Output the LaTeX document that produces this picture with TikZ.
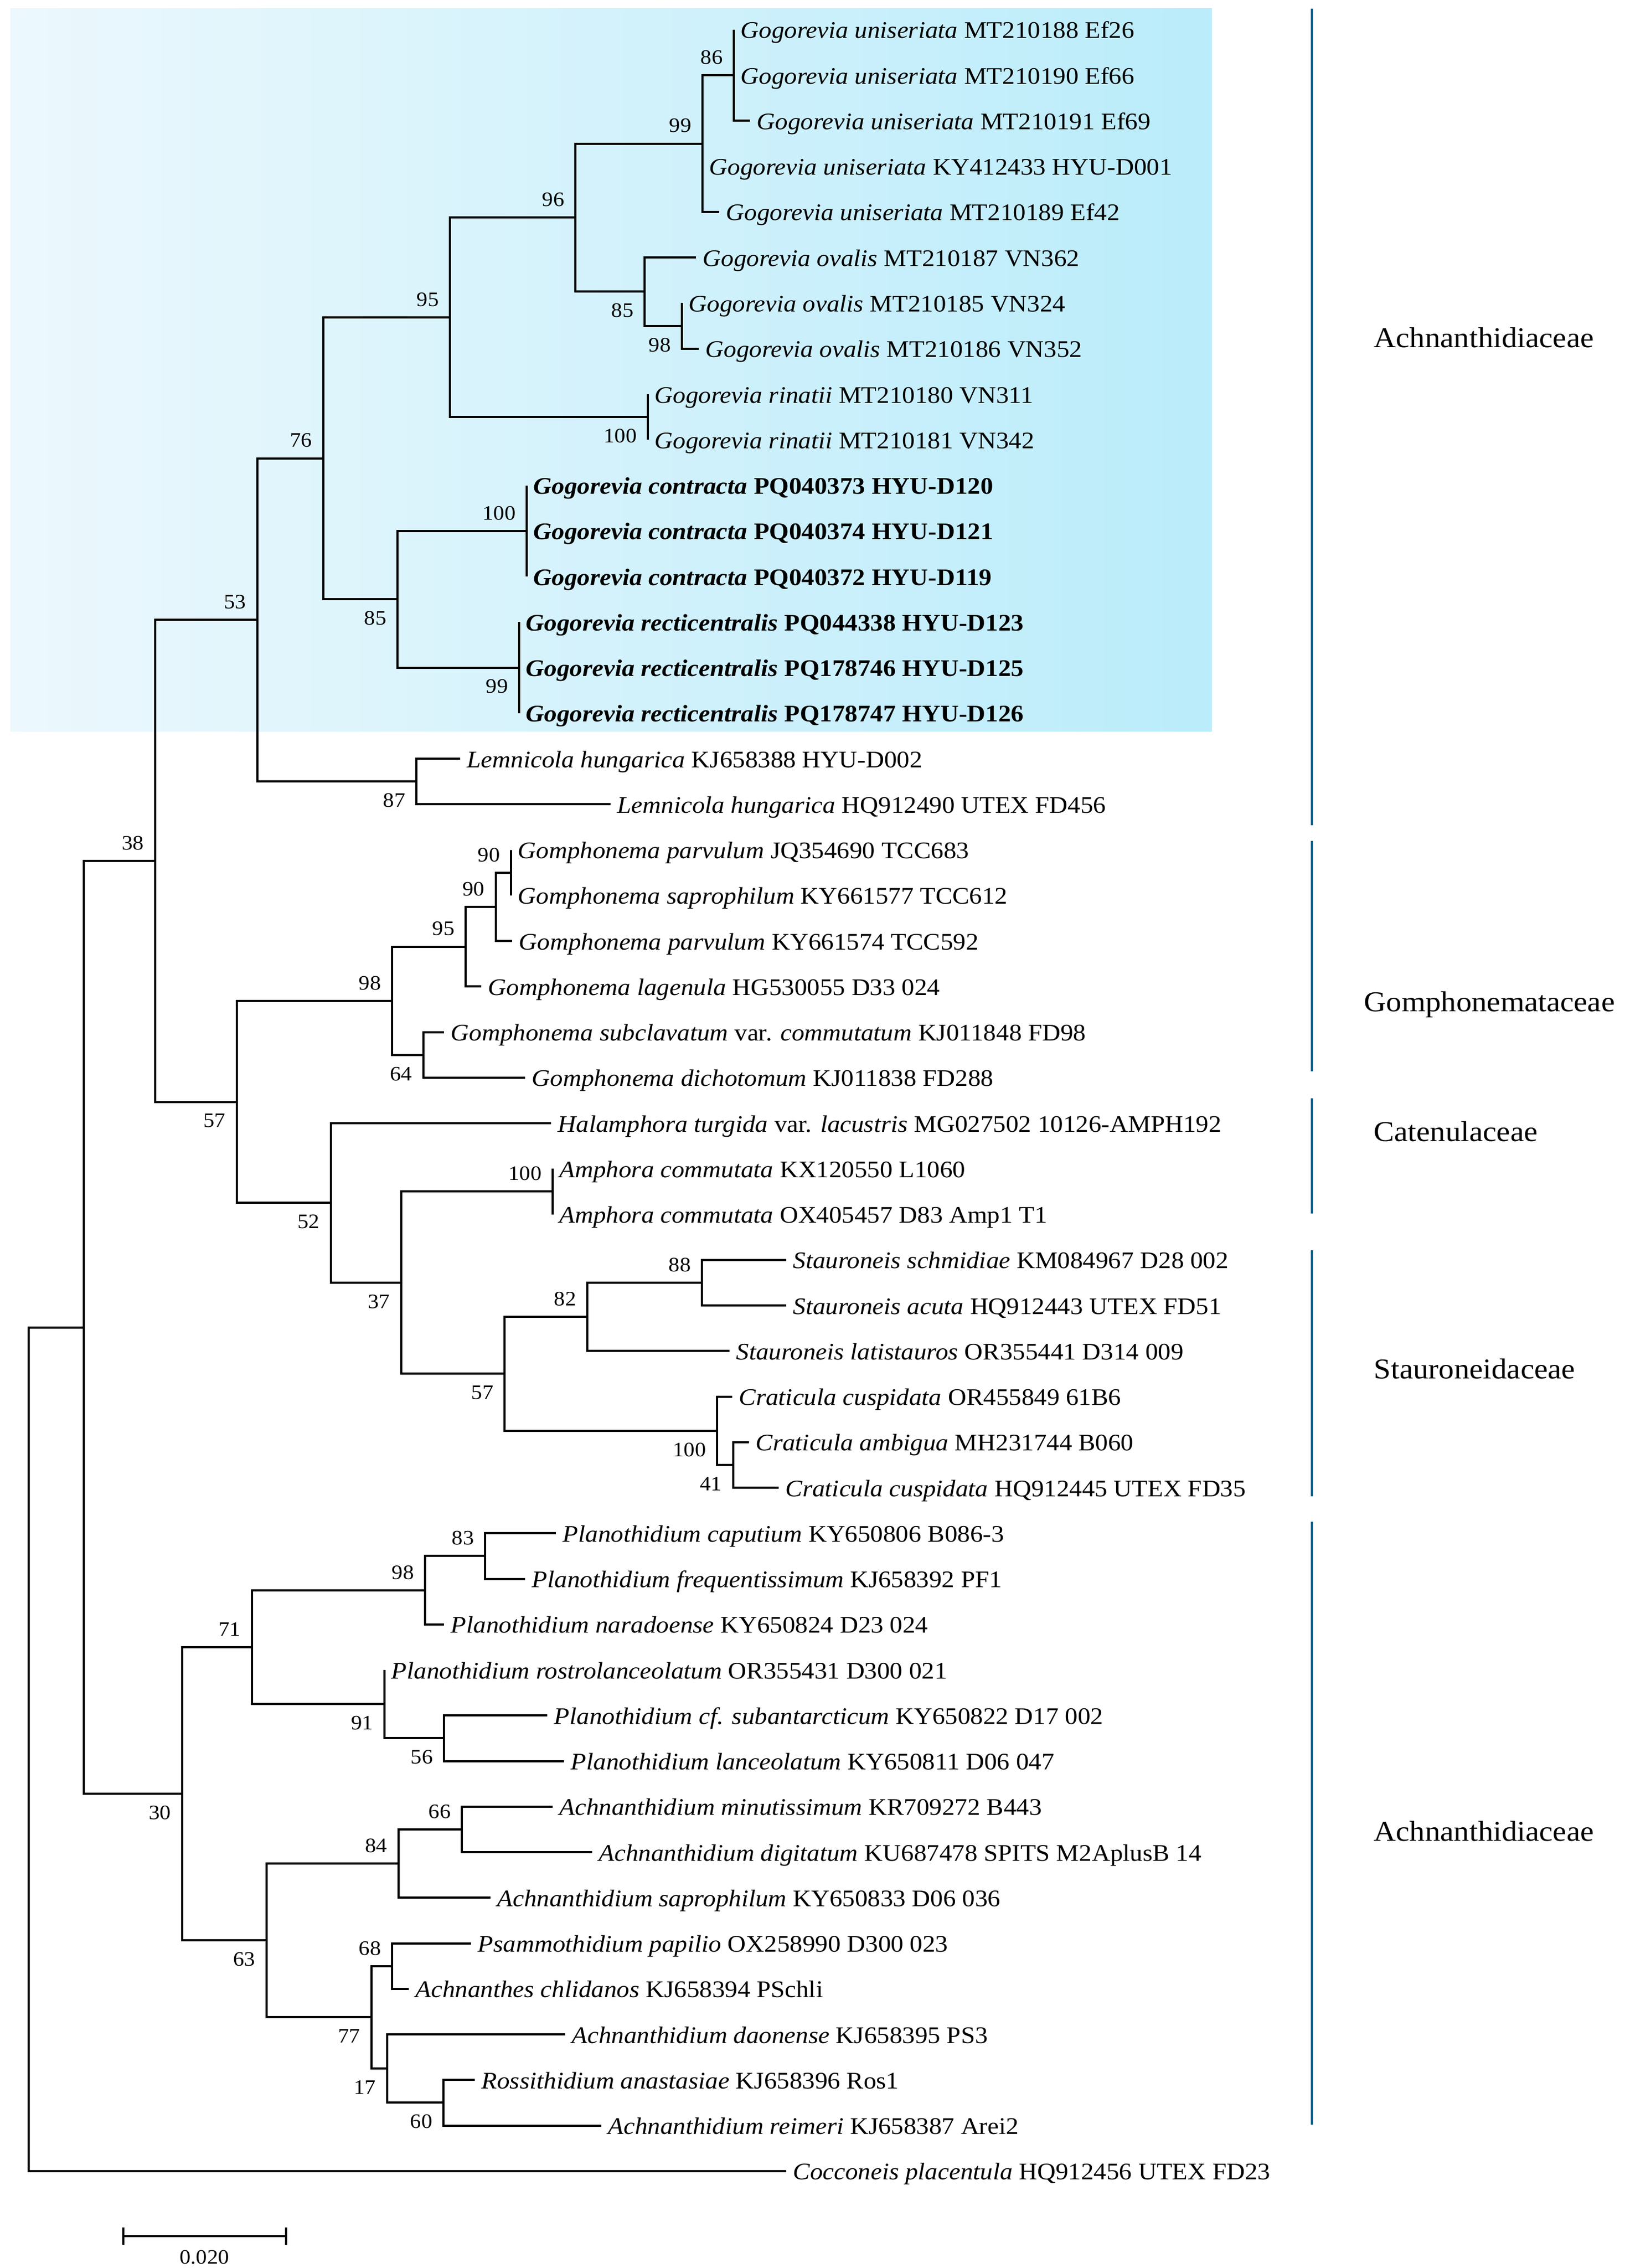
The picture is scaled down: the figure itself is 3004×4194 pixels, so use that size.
\documentclass[tikz,border=0pt]{standalone}
\usepackage{fontspec}
\setmainfont{Liberation Serif}[FakeStretch=1.07]
\definecolor{boxL}{RGB}{236,248,253}
\definecolor{boxR}{RGB}{186,236,250}
\definecolor{famblue}{RGB}{0,100,140}
\tikzset{
  br/.style={line width=0.4mm, black},
  leaf/.style={anchor=base west, inner sep=0pt, font=\fontsize{12.5}{15}\selectfont},
  bs/.style={anchor=east, inner sep=0pt, font=\fontsize{10.8}{13}\selectfont},
  fam/.style={anchor=base west, inner sep=0pt, font=\fontsize{15.1}{18}\selectfont},
  famline/.style={line width=0.4mm, draw=famblue},
}
\newcommand\lf[2]{\node[leaf] (t#1) at ([shift={(12,16)}]l#1) {#2};}
\newcommand\bsu[2]{\node[bs] (b#1) at ([shift={(-20,-33)}]#1) {#2};}
\newcommand\bsd[2]{\node[bs] (b#1) at ([shift={(-20,35)}]#1) {#2};}
\begin{document}
\begin{tikzpicture}[x=0.1mm, y=-0.1mm]
\useasboundingbox (0,0) rectangle (3004,4194);
% highlight box
\shade[left color=boxL, right color=boxR] (19,16) rectangle (2241,1352);

% leaf end points
\coordinate (l1) at (1357,55);
\coordinate (l2) at (1357,139.25);
\coordinate (l3) at (1387,223.5);
\coordinate (l4) at (1299,307.75);
\coordinate (l5) at (1330,392);
\coordinate (l6) at (1287,476.25);
\coordinate (l7) at (1261,560.5);
\coordinate (l8) at (1292,644.75);
\coordinate (l9) at (1198,729);
\coordinate (l10) at (1198,813.25);
\coordinate (l11) at (974,897.5);
\coordinate (l12) at (974,981.75);
\coordinate (l13) at (974,1066);
\coordinate (l14) at (960,1150.25);
\coordinate (l15) at (960,1234.5);
\coordinate (l16) at (960,1318.75);
\coordinate (l17) at (851,1403);
\coordinate (l18) at (1129,1487.25);
\coordinate (l19) at (945,1571.5);
\coordinate (l20) at (945,1655.75);
\coordinate (l21) at (947,1740);
\coordinate (l22) at (890,1824.25);
\coordinate (l23) at (821,1908.5);
\coordinate (l24) at (971,1992.75);
\coordinate (l25) at (1019,2077);
\coordinate (l26) at (1022,2161.25);
\coordinate (l27) at (1022,2245.5);
\coordinate (l28) at (1454,2329.75);
\coordinate (l29) at (1454,2414);
\coordinate (l30) at (1349,2498.25);
\coordinate (l31) at (1354,2582.5);
\coordinate (l32) at (1385,2666.75);
\coordinate (l33) at (1440,2751);
\coordinate (l34) at (1028,2835.25);
\coordinate (l35) at (971,2919.5);
\coordinate (l36) at (821,3003.75);
\coordinate (l37) at (711,3088);
\coordinate (l38) at (1012,3172.25);
\coordinate (l39) at (1043,3256.5);
\coordinate (l40) at (1022,3340.75);
\coordinate (l41) at (1095,3425);
\coordinate (l42) at (907,3509.25);
\coordinate (l43) at (871,3593.5);
\coordinate (l44) at (756,3677.75);
\coordinate (l45) at (1045,3762);
\coordinate (l46) at (878,3846.25);
\coordinate (l47) at (1112,3930.5);
\coordinate (l48) at (1454,4014.75);

% internal nodes
\coordinate (n86) at (1357,139.25);
\coordinate (n99) at (1299,265.6);
\coordinate (n98a) at (1261,602.6);
\coordinate (n85a) at (1192,539.4);
\coordinate (n96) at (1064,402.5);
\coordinate (n100r) at (1198,771.1);
\coordinate (n95) at (832,586.8);
\coordinate (n100c) at (974,981.75);
\coordinate (n99r) at (960,1234.5);
\coordinate (n85b) at (735,1108.1);
\coordinate (n76) at (598,847.5);
\coordinate (n87) at (770,1445.1);
\coordinate (n53) at (476,1146.3);
\coordinate (n90a) at (945,1613.6);
\coordinate (n90b) at (916.5,1676.8);
\coordinate (n95g) at (861,1750.5);
\coordinate (n64) at (782.5,1950.6);
\coordinate (n98g) at (725,1850.6);
\coordinate (n100a) at (1022,2203.4);
\coordinate (n88) at (1298,2371.9);
\coordinate (n82) at (1086,2435.1);
\coordinate (n41) at (1355.6,2708.9);
\coordinate (n100cr) at (1326,2645.7);
\coordinate (n57b) at (933,2540.4);
\coordinate (n37) at (741.5,2371.9);
\coordinate (n52) at (612,2224.4);
\coordinate (n57a) at (438,2037.5);
\coordinate (n38) at (287,1591.9);
\coordinate (n83) at (897,2877.4);
\coordinate (n98p) at (786,2940.6);
\coordinate (n56) at (821,3214.4);
\coordinate (n91) at (711,3151.2);
\coordinate (n71) at (466,3045.9);
\coordinate (n66) at (854,3382.9);
\coordinate (n84) at (736.6,3446.1);
\coordinate (n68) at (725,3635.6);
\coordinate (n60) at (820,3888.4);
\coordinate (n17) at (715.6,3825.2);
\coordinate (n77) at (687,3730.4);
\coordinate (n63) at (493,3588.2);
\coordinate (n30) at (337,3317.1);
\coordinate (nX) at (155,2454.5);
\coordinate (root) at (52.6,3234.6);

% branches
\foreach \p/\c in {n86/l1,n86/l2,n86/l3,n99/n86,n99/l4,n99/l5,
  n96/n99,n96/n85a,n85a/l6,n85a/n98a,n98a/l7,n98a/l8,
  n100r/l9,n100r/l10,n95/n96,n95/n100r,
  n100c/l11,n100c/l12,n100c/l13,n99r/l14,n99r/l15,n99r/l16,
  n85b/n100c,n85b/n99r,n76/n95,n76/n85b,n87/l17,n87/l18,
  n53/n76,n53/n87,
  n90a/l19,n90a/l20,n90b/n90a,n90b/l21,n95g/n90b,n95g/l22,
  n64/l23,n64/l24,n98g/n95g,n98g/n64,
  n100a/l26,n100a/l27,n88/l28,n88/l29,n82/n88,n82/l30,
  n41/l32,n41/l33,n100cr/l31,n100cr/n41,n57b/n82,n57b/n100cr,
  n37/n100a,n37/n57b,n52/l25,n52/n37,n57a/n98g,n57a/n52,
  n38/n53,n38/n57a,
  n83/l34,n83/l35,n98p/n83,n98p/l36,n56/l38,n56/l39,n91/l37,n91/n56,
  n71/n98p,n71/n91,n66/l40,n66/l41,n84/n66,n84/l42,
  n68/l43,n68/l44,n60/l46,n60/l47,n17/l45,n17/n60,n77/n68,n77/n17,
  n63/n84,n63/n77,n30/n71,n30/n63,nX/n38,nX/n30,root/nX,root/l48}
  \draw[br] (\p) |- (\c);

% bootstrap values
\bsu{n86}{86} \bsu{n99}{99} \bsu{n96}{96} \bsd{n85a}{85} \bsd{n98a}{98}
\bsu{n95}{95} \bsd{n100r}{100} \bsu{n76}{76} \bsu{n100c}{100} \bsd{n85b}{85}
\bsd{n99r}{99} \bsu{n53}{53} \bsd{n87}{87} \bsu{n38}{38}
\bsu{n90a}{90} \bsu{n90b}{90} \bsu{n95g}{95} \bsu{n98g}{98} \bsd{n64}{64}
\bsd{n57a}{57} \bsd{n52}{52} \bsu{n100a}{100} \bsd{n37}{37} \bsu{n88}{88}
\bsu{n82}{82} \bsd{n57b}{57} \bsd{n100cr}{100} \bsd{n41}{41}
\bsu{n71}{71} \bsu{n98p}{98} \bsu{n83}{83} \bsd{n91}{91} \bsd{n56}{56}
\bsd{n30}{30} \bsu{n84}{84} \bsu{n66}{66} \bsd{n63}{63} \bsu{n68}{68}
\bsd{n77}{77} \bsd{n17}{17} \bsd{n60}{60}

% leaf labels
\lf{1}{\textit{Gogorevia uniseriata} MT210188 Ef26}
\lf{2}{\textit{Gogorevia uniseriata} MT210190 Ef66}
\lf{3}{\textit{Gogorevia uniseriata} MT210191 Ef69}
\lf{4}{\textit{Gogorevia uniseriata} KY412433 HYU-D001}
\lf{5}{\textit{Gogorevia uniseriata} MT210189 Ef42}
\lf{6}{\textit{Gogorevia ovalis} MT210187 VN362}
\lf{7}{\textit{Gogorevia ovalis} MT210185 VN324}
\lf{8}{\textit{Gogorevia ovalis} MT210186 VN352}
\lf{9}{\textit{Gogorevia rinatii} MT210180 VN311}
\lf{10}{\textit{Gogorevia rinatii} MT210181 VN342}
\lf{11}{\textbf{\textit{Gogorevia contracta} PQ040373 HYU-D120}}
\lf{12}{\textbf{\textit{Gogorevia contracta} PQ040374 HYU-D121}}
\lf{13}{\textbf{\textit{Gogorevia contracta} PQ040372 HYU-D119}}
\lf{14}{\textbf{\textit{Gogorevia recticentralis} PQ044338 HYU-D123}}
\lf{15}{\textbf{\textit{Gogorevia recticentralis} PQ178746 HYU-D125}}
\lf{16}{\textbf{\textit{Gogorevia recticentralis} PQ178747 HYU-D126}}
\lf{17}{\textit{Lemnicola hungarica} KJ658388 HYU-D002}
\lf{18}{\textit{Lemnicola hungarica} HQ912490 UTEX FD456}
\lf{19}{\textit{Gomphonema parvulum} JQ354690 TCC683}
\lf{20}{\textit{Gomphonema saprophilum} KY661577 TCC612}
\lf{21}{\textit{Gomphonema parvulum} KY661574 TCC592}
\lf{22}{\textit{Gomphonema lagenula} HG530055 D33 024}
\lf{23}{\textit{Gomphonema subclavatum} var. \textit{commutatum} KJ011848 FD98}
\lf{24}{\textit{Gomphonema dichotomum} KJ011838 FD288}
\lf{25}{\textit{Halamphora turgida} var. \textit{lacustris} MG027502 10126-AMPH192}
\lf{26}{\textit{Amphora commutata} KX120550 L1060}
\lf{27}{\textit{Amphora commutata} OX405457 D83 Amp1 T1}
\lf{28}{\textit{Stauroneis schmidiae} KM084967 D28 002}
\lf{29}{\textit{Stauroneis acuta} HQ912443 UTEX FD51}
\lf{30}{\textit{Stauroneis latistauros} OR355441 D314 009}
\lf{31}{\textit{Craticula cuspidata} OR455849 61B6}
\lf{32}{\textit{Craticula ambigua} MH231744 B060}
\lf{33}{\textit{Craticula cuspidata} HQ912445 UTEX FD35}
\lf{34}{\textit{Planothidium caputium} KY650806 B086-3}
\lf{35}{\textit{Planothidium frequentissimum} KJ658392 PF1}
\lf{36}{\textit{Planothidium naradoense} KY650824 D23 024}
\lf{37}{\textit{Planothidium rostrolanceolatum} OR355431 D300 021}
\lf{38}{\textit{Planothidium cf. subantarcticum} KY650822 D17 002}
\lf{39}{\textit{Planothidium lanceolatum} KY650811 D06 047}
\lf{40}{\textit{Achnanthidium minutissimum} KR709272 B443}
\lf{41}{\textit{Achnanthidium digitatum} KU687478 SPITS M2AplusB 14}
\lf{42}{\textit{Achnanthidium saprophilum} KY650833 D06 036}
\lf{43}{\textit{Psammothidium papilio} OX258990 D300 023}
\lf{44}{\textit{Achnanthes chlidanos} KJ658394 PSchli}
\lf{45}{\textit{Achnanthidium daonense} KJ658395 PS3}
\lf{46}{\textit{Rossithidium anastasiae} KJ658396 Ros1}
\lf{47}{\textit{Achnanthidium reimeri} KJ658387 Arei2}
\lf{48}{\textit{Cocconeis placentula} HQ912456 UTEX FD23}

% family bars
\coordinate (fa1) at (2426,16);   \coordinate (fb1) at (2426,1526);
\coordinate (fa2) at (2426,1555); \coordinate (fb2) at (2426,1981);
\coordinate (fa3) at (2426,2031); \coordinate (fb3) at (2426,2244);
\coordinate (fa4) at (2426,2312); \coordinate (fb4) at (2426,2767);
\coordinate (fa5) at (2426,2814); \coordinate (fb5) at (2426,3929);
\foreach \k in {1,...,5} \draw[famline] (fa\k) -- (fb\k);

\node[fam] (fam1) at (2540,643) {Achnanthidiaceae};
\node[fam] (fam2) at (2522,1870) {Gomphonemataceae};
\node[fam] (fam3) at (2540,2110) {Catenulaceae};
\node[fam] (fam4) at (2540,2549) {Stauroneidaceae};
\node[fam] (fam5) at (2540,3404) {Achnanthidiaceae};

% scale bar
\coordinate (sbL) at (228,4135); \coordinate (sbR) at (529,4135);
\coordinate (sbLt) at (228,4119); \coordinate (sbLb) at (228,4151);
\coordinate (sbRt) at (529,4119); \coordinate (sbRb) at (529,4151);
\draw[br] (sbL) -- (sbR);
\draw[br] (sbLt) -- (sbLb);
\draw[br] (sbRt) -- (sbRb);
\node[bs, anchor=center] (sblab) at (378,4174) {0.020};
\end{tikzpicture}
\end{document}
